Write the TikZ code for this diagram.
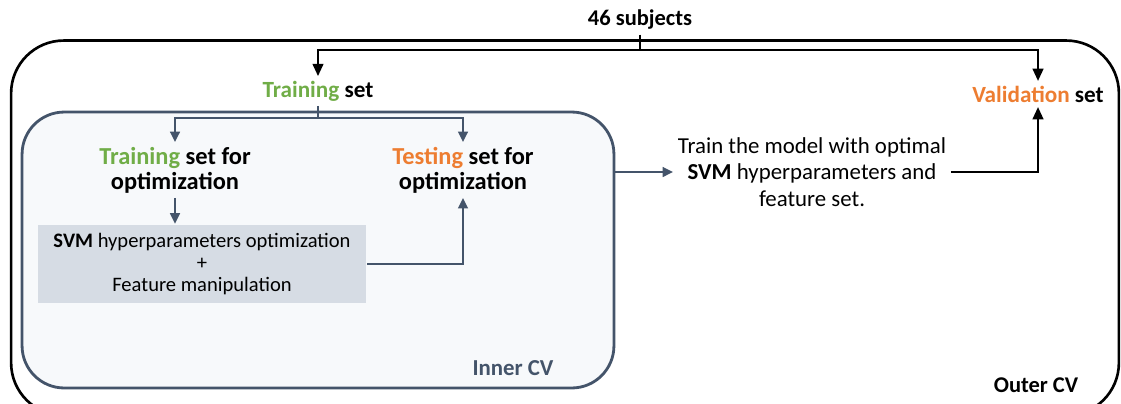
\documentclass[tikz,border=0pt]{standalone}
\usepackage{fontspec}
\setmainfont{Carlito}
\definecolor{TrainGreen}{HTML}{70AD47}
\definecolor{TestOrange}{HTML}{ED7D31}
\definecolor{Slate}{HTML}{44546A}
\definecolor{BoxGray}{HTML}{D6DCE4}
\definecolor{InnerFill}{HTML}{F7F9FB}
\usetikzlibrary{arrows.meta, positioning, calc}

\begin{document}
\begin{tikzpicture}[x=0.02cm, y=-0.02cm, line width=1.4pt,
    label/.style={font=\fontsize{13.9}{14.4}\selectfont\bfseries, align=center, inner sep=2pt},
    plain/.style={font=\fontsize{13}{15}\selectfont, align=center, inner sep=2pt},
    blackarrow/.style={-{Triangle[length=7pt, width=6pt]}, black},
    slatearrow/.style={-{Triangle[length=6pt, width=5.5pt]}, Slate}]
  \useasboundingbox (0,0) rectangle (1121,403);

  % Outer and inner CV frames
  \node[draw=black, rounded corners=30pt, minimum width=22.16cm, minimum height=7.5cm,
        line width=1.5pt] (outer) at (565,228) {};
  \node[draw=Slate, fill=InnerFill, rounded corners=24pt, minimum width=11.84cm,
        minimum height=5.52cm, line width=1.6pt] (inner) at (318,250) {};

  % Sets
  \node[label, font=\fontsize{12.8}{15}\selectfont\bfseries] (subjects) at (640,20) {46 subjects};
  \node[label, font=\fontsize{13.2}{15}\selectfont\bfseries] (trainset) at (318,91)
    {\textcolor{TrainGreen}{Training} set};
  \node[label, font=\fontsize{13.2}{15}\selectfont\bfseries] (valset) at (1038,94)
    {\textcolor{TestOrange}{Validation} set};
  \node[label] (trainopt) at (175,170) {\textcolor{TrainGreen}{Training} set for\\optimization};
  \node[label] (testopt) at (463,170) {\textcolor{TestOrange}{Testing} set for\\optimization};
  \node[fill=BoxGray, minimum width=6.56cm, minimum height=1.56cm, align=center,
        font=\fontsize{11.7}{12.8}\selectfont] (svmbox) at (202,264)
    {\textbf{SVM} hyperparameters optimization\\+\\Feature manipulation};
  \node[plain] (trainmodel) at (812,172)
    {Train the model with optimal\\\textbf{SVM} hyperparameters and\\feature set.};
  \node[label, font=\fontsize{13}{15}\selectfont\bfseries, text=Slate] (innercv) at (513,368) {Inner CV};
  \node[label, font=\fontsize{12.8}{15}\selectfont\bfseries] (outercv) at (1036,385) {Outer CV};

  % Outer split
  \coordinate (osplit) at (640,50);
  \draw (subjects) -- (osplit);
  \draw[blackarrow] (osplit) -| (trainset.north);
  \draw[blackarrow] (osplit) -| (valset.north);

  % Inner split
  \coordinate (isplit) at (318,118);
  \draw[Slate] (trainset) -- (isplit);
  \draw[slatearrow] (isplit) -| (trainopt.north);
  \draw[slatearrow] (isplit) -| (testopt.north);
  \draw[slatearrow] (trainopt.south) -- (trainopt.south |- svmbox.north);
  \draw[slatearrow] (svmbox.east) -| (testopt.south);

  % Final model
  \draw[slatearrow] (inner.east |- trainmodel) -- (trainmodel.west);
  \draw[blackarrow] (trainmodel.east) -| (valset.south);
\end{tikzpicture}
\end{document}
